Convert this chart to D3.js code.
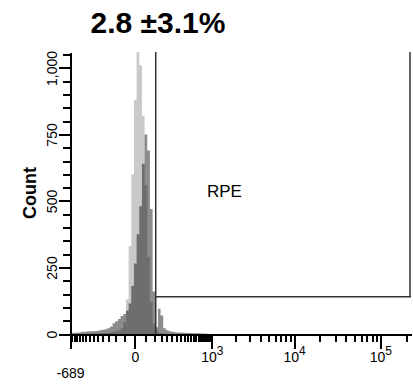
<!DOCTYPE html>
<html>
<head>
<meta charset="utf-8">
<script src="https://cdn.jsdelivr.net/npm/d3@7"></script>
<style>
  body { margin: 0; background: #fff; }
  svg { display: block; font-family: "Liberation Sans", Arial, sans-serif; }
</style>
</head>
<body>
<div id="chart"></div>
<script>
// Chart values
const title = "2.8 ±3.1%";
const gateLabel = "RPE";
const yLabel = "Count";

const xMin = -689;
const xMax = 225000;
const yMax = 1060;
const gateMin = 110;      // left edge of the RPE gate
const gateLevel = 140;    // height of the gate bar (count)

// histograms: 128 display bins across the axis, first bins listed
const nBins = 128;
const controlCounts = [0, 0, 0, 1, 1, 1, 2, 2, 2, 3, 3, 3, 4, 4, 5, 6, 8, 10, 14, 22,
    45, 130, 330, 600, 880, 1150, 1010, 820, 560, 290, 120, 40, 12, 4, 2, 1];
const sampleCounts = [4, 5, 5, 6, 8, 8, 9, 10, 10, 11, 12, 14, 16, 18, 22, 28, 40, 48, 56, 68,
    75, 88, 115, 180, 265, 375, 480, 640, 750, 690, 470, 160, 25, 95, 70, 22, 14, 10, 8, 7,
    6, 6, 5, 5, 4, 4, 3, 3, 3, 2, 2, 1];

const xMajorTicks = [-689, 0, 1e3, 1e4, 1e5];
const xMinorTicks = d3.range(-650, 1000, 50).filter(d => d !== 0)
    .concat([2e3, 3e3, 4e3, 5e3, 6e3, 7e3, 8e3, 9e3,
             2e4, 3e4, 4e4, 5e4, 6e4, 7e4, 8e4, 9e4, 2e5]);
const yMajorTicks = [0, 250, 500, 750, 1000];
const yMinorTicks = [50, 100, 150, 200, 300, 350, 400, 450, 550, 600, 650, 700,
                     800, 850, 900, 950, 1050];

const margin = { top: 52, right: 2, bottom: 51, left: 70 };
const width = 413 - margin.left - margin.right;
const height = 385 - margin.top - margin.bottom;

const root = d3.select("#chart").append("svg")
    .attr("width", 413)
    .attr("height", 385);

const svg = root.append("g")
    .attr("transform", `translate(${margin.left},${margin.top})`);

// biexponential-like x scale
const x = d3.scaleSymlog()
    .constant(150)
    .domain([xMin, xMax])
    .range([0, width]);

// display bins are uniform along the transformed axis
const bin = d3.scaleLinear()
    .domain([0, nBins])
    .range([0, width]);

const y = d3.scaleLinear()
    .domain([0, yMax])
    .range([height, 0]);

svg.append("clipPath")
    .attr("id", "plot-clip")
  .append("rect")
    .attr("width", width)
    .attr("height", height);

const area = d3.area()
    .x(d => bin(d[0]))
    .y0(y(0))
    .y1(d => y(d[1]))
    .curve(d3.curveStepAfter);

function steps(counts) {
    const pts = counts.map((c, i) => [i, c]);
    pts.push([counts.length, counts[counts.length - 1]]);
    return pts;
}

const hist = svg.append("g").attr("clip-path", "url(#plot-clip)");

hist.append("path")
    .datum(steps(controlCounts))
    .attr("fill", "#c9c9c9")
    .attr("d", area);

hist.append("path")
    .datum(steps(sampleCounts))
    .attr("fill", "#8c8c8c")
    .style("mix-blend-mode", "multiply")
    .attr("d", area);

// gate
const gate = svg.append("g")
    .attr("stroke", "#333")
    .attr("stroke-width", 1.5)
    .attr("fill", "none");

gate.append("line")
    .attr("x1", x(gateMin)).attr("x2", x(gateMin))
    .attr("y1", y(yMax)).attr("y2", y(0));

gate.append("line")
    .attr("x1", x(gateMin)).attr("x2", x(xMax))
    .attr("y1", y(gateLevel)).attr("y2", y(gateLevel));

gate.append("line")
    .attr("x1", x(xMax) - 1).attr("x2", x(xMax) - 1)
    .attr("y1", y(yMax)).attr("y2", y(gateLevel));

svg.append("text")
    .attr("x", 137)
    .attr("y", 145)
    .style("font-size", "17px")
    .text(gateLabel);

// x axis
const xMinorAxis = svg.append("g")
    .attr("transform", `translate(0,${height})`)
    .call(d3.axisBottom(x)
        .tickValues(xMinorTicks)
        .tickSize(8)
        .tickSizeOuter(0)
        .tickFormat(""));
xMinorAxis.select(".domain").remove();

const xAxis = svg.append("g")
    .attr("transform", `translate(0,${height})`)
    .call(d3.axisBottom(x)
        .tickValues(xMajorTicks)
        .tickSize(15)
        .tickSizeOuter(0)
        .tickFormat(""));

xAxis.selectAll(".tick text").each(function(d) {
    const t = d3.select(this);
    if (d >= 1000) {
        t.text("10");
        t.append("tspan")
            .attr("dy", "-0.6em")
            .text(Math.round(Math.log10(d)));
    } else {
        t.text(String(d));
        if (d < 0) t.attr("y", 34);
    }
});

// y axis
const yMinorAxis = svg.append("g")
    .call(d3.axisLeft(y)
        .tickValues(yMinorTicks)
        .tickSize(7)
        .tickSizeOuter(0)
        .tickFormat(""));
yMinorAxis.select(".domain").remove();

const yAxis = svg.append("g")
    .call(d3.axisLeft(y)
        .tickValues(yMajorTicks)
        .tickSize(11)
        .tickSizeOuter(0)
        .tickFormat(d3.format(",")));

yAxis.selectAll(".tick text")
    .attr("transform", "rotate(-90)")
    .attr("x", 0)
    .attr("y", -13)
    .attr("dy", 0)
    .style("text-anchor", "middle");

svg.selectAll(".domain, .tick line")
    .attr("stroke", "#000")
    .attr("stroke-width", 2)
    .attr("shape-rendering", "crispEdges");

svg.selectAll(".tick text")
    .attr("fill", "#000")
    .style("font-family", "'Liberation Sans', Arial, sans-serif")
    .style("font-size", "14px");
xAxis.selectAll(".tick text tspan").style("font-size", "12px");

// axis label and title
svg.append("text")
    .attr("transform", `translate(-34,${height / 2}) rotate(-90)`)
    .style("text-anchor", "middle")
    .style("font-weight", "bold")
    .style("font-size", "18px")
    .text(yLabel);

root.append("text")
    .attr("x", 158)
    .attr("y", 33)
    .style("text-anchor", "middle")
    .style("font-weight", "bold")
    .style("font-size", "30px")
    .text(title);
</script>
</body>
</html>
